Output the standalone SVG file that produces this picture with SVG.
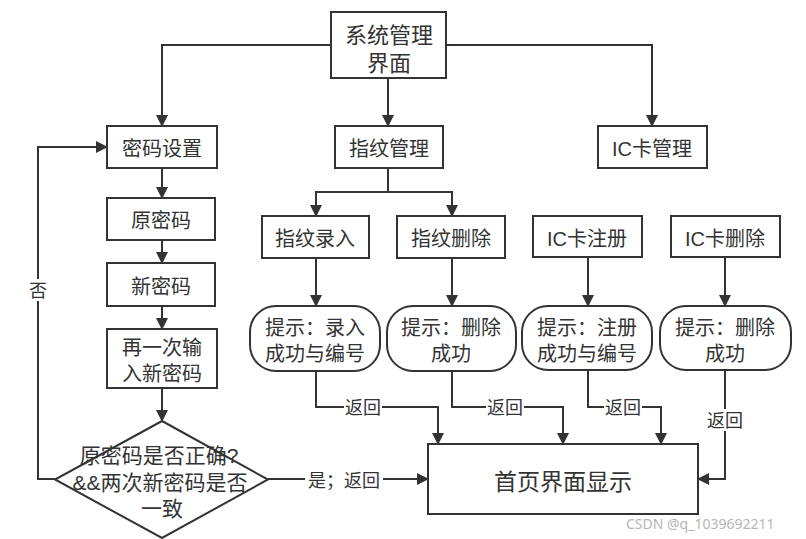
<svg xmlns="http://www.w3.org/2000/svg" width="806" height="539" viewBox="0 0 806 539">
  <style>
    .box { fill: #fff; stroke: #333; stroke-width: 2; }
    .t { font-family: "Liberation Sans", "Noto Sans CJK SC", sans-serif; font-size: 20px; fill: #333; text-anchor: middle; dominant-baseline: central; }
    .top { font-size: 22px; }
    .dia { font-size: 21px; }
    .big { font-size: 23px; }
    .lbl { font-family: "Liberation Sans", "Noto Sans CJK SC", sans-serif; font-size: 18px; fill: #333; text-anchor: middle; dominant-baseline: central; }
    .bg { fill: #fff; }
    .wire { fill: none; stroke: #333; stroke-width: 2; }
    .arr { marker-end: url(#ah); }
    .wm { font-family: "Noto Sans", sans-serif; font-size: 14px; fill: #b5b5b5; }
  </style>
  <defs>
    <marker id="ah" markerUnits="userSpaceOnUse" markerWidth="12" markerHeight="12" viewBox="0 0 12 12" refX="11" refY="6" orient="auto">
      <path d="M0,0 L12,6 L0,12 Z" fill="#333"/>
    </marker>
  </defs>
  <rect width="806" height="539" fill="#fff"/>

  <!-- connectors -->
  <g id="connectors">
    <path class="wire arr" d="M331,45 H162 V126"/>
    <path class="wire arr" d="M446,45 H652 V126"/>
    <path class="wire arr" d="M388,78 V126"/>
    <path class="wire arr" d="M162,168 V198"/>
    <path class="wire arr" d="M162,240 V263"/>
    <path class="wire arr" d="M162,306 V329"/>
    <path class="wire arr" d="M162,388 V421"/>
    <path class="wire" d="M388,168 V192"/>
    <path class="wire arr" d="M388,192 H316 V216"/>
    <path class="wire arr" d="M388,192 H452 V216"/>
    <path class="wire arr" d="M316,258 V306"/>
    <path class="wire arr" d="M452,258 V306"/>
    <path class="wire arr" d="M588,257 V306"/>
    <path class="wire arr" d="M725,257 V306"/>
    <!-- return paths -->
    <path class="wire arr" d="M316,371 V407 H438 V444"/>
    <path class="wire arr" d="M452,371 V407 H563 V444"/>
    <path class="wire arr" d="M588,370 V407 H661 V444"/>
    <path class="wire arr" d="M725,370 V479 H698"/>
    <!-- decision branches -->
    <path class="wire arr" d="M55,479 H38 V147 H107"/>
    <path class="wire arr" d="M268,479 H428"/>
    <!-- labels -->
    <rect class="bg" x="344" y="397" width="38" height="20"/>
    <text class="lbl" x="363" y="408">返回</text>
    <rect class="bg" x="486" y="397" width="38" height="20"/>
    <text class="lbl" x="505" y="408">返回</text>
    <rect class="bg" x="604" y="397" width="38" height="20"/>
    <text class="lbl" x="623" y="408">返回</text>
    <rect class="bg" x="706" y="409" width="38" height="22"/>
    <text class="lbl" x="725" y="421">返回</text>
    <rect class="bg" x="28" y="279" width="20" height="22"/>
    <text class="lbl" x="38" y="291">否</text>
    <rect class="bg" x="305" y="470" width="78" height="20"/>
    <text class="lbl" x="344" y="481">是；返回</text>
  </g>

  <g id="sys">
    <rect class="box" x="331" y="12" width="115" height="66"/>
    <text class="t top" x="389" y="35">系统管理</text>
    <text class="t top" x="389" y="63">界面</text>
  </g>
  <g id="pwd">
    <rect class="box" x="107" y="126" width="110" height="42"/>
    <text class="t" x="162" y="149">密码设置</text>
  </g>
  <g id="fp">
    <rect class="box" x="335" y="126" width="108" height="42"/>
    <text class="t" x="389" y="149">指纹管理</text>
  </g>
  <g id="ic">
    <rect class="box" x="598" y="126" width="109" height="42"/>
    <text class="t" x="652" y="149">IC卡管理</text>
  </g>
  <g id="oldpwd">
    <rect class="box" x="107" y="198" width="108" height="42"/>
    <text class="t" x="161" y="221">原密码</text>
  </g>
  <g id="newpwd">
    <rect class="box" x="107" y="263" width="108" height="43"/>
    <text class="t" x="161" y="287">新密码</text>
  </g>
  <g id="repeat">
    <rect class="box" x="107" y="329" width="110" height="59"/>
    <text class="t" x="162" y="348">再一次输</text>
    <text class="t" x="162" y="374">入新密码</text>
  </g>
  <g id="check">
    <path class="box" d="M162,421 L268,479.5 L162,538 L55,479.5 Z"/>
    <text class="t dia" x="159" y="455">原密码是否正确?</text>
    <text class="t dia" x="160" y="482">&amp;&amp;两次新密码是否</text>
    <text class="t dia" x="162" y="508">一致</text>
  </g>
  <g id="fpadd">
    <rect class="box" x="262" y="216" width="107" height="42"/>
    <text class="t" x="315" y="239">指纹录入</text>
  </g>
  <g id="fpdel">
    <rect class="box" x="397" y="216" width="108" height="42"/>
    <text class="t" x="451" y="239">指纹删除</text>
  </g>
  <g id="icreg">
    <rect class="box" x="533" y="216" width="109" height="41"/>
    <text class="t" x="587" y="239">IC卡注册</text>
  </g>
  <g id="icdel">
    <rect class="box" x="671" y="216" width="109" height="41"/>
    <text class="t" x="725" y="239">IC卡删除</text>
  </g>
  <g id="msg1">
    <rect class="box" x="250" y="306" width="130" height="65" rx="26"/>
    <text class="t" x="315" y="328">提示：录入</text>
    <text class="t" x="315" y="354">成功与编号</text>
  </g>
  <g id="msg2">
    <rect class="box" x="387" y="306" width="129" height="65" rx="26"/>
    <text class="t" x="451" y="328">提示：删除</text>
    <text class="t" x="451" y="354">成功</text>
  </g>
  <g id="msg3">
    <rect class="box" x="522" y="306" width="130" height="64" rx="26"/>
    <text class="t" x="587" y="328">提示：注册</text>
    <text class="t" x="587" y="354">成功与编号</text>
  </g>
  <g id="msg4">
    <rect class="box" x="660" y="306" width="131" height="64" rx="26"/>
    <text class="t" x="725" y="328">提示：删除</text>
    <text class="t" x="725" y="354">成功</text>
  </g>
  <g id="home">
    <rect class="box" x="428" y="444" width="270" height="70"/>
    <text class="t big" x="563" y="482">首页界面显示</text>
  </g>

  <text class="wm" x="626" y="529">CSDN @q_1039692211</text>
</svg>
